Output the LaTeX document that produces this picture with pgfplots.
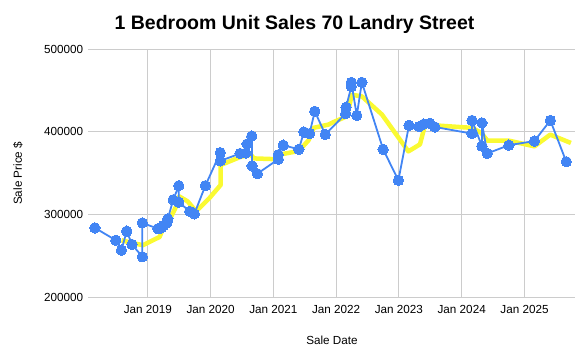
\documentclass[border=0pt]{standalone}
\usepackage{fontspec}
\setmainfont{Liberation Sans}
\usepackage{pgfplots}
\pgfplotsset{compat=1.18}
\definecolor{gblue}{RGB}{66,133,244}
\definecolor{gyellow}{RGB}{250,250,50}
\definecolor{ggrid}{RGB}{204,204,204}
\begin{document}
\begin{tikzpicture}
\useasboundingbox (0,0) rectangle (588bp,362bp);
\begin{axis}[
  at={(88.3bp,64.7bp)}, anchor=south west,
  width=487bp, height=248bp, scale only axis,
  xmin=2018.05, xmax=2025.81,
  ymin=200000, ymax=500000,
  axis line style={draw=none},
  grid=major,
  major grid style={ggrid, line width=1bp},
  major tick length=0pt,
  tick style={draw=none},
  xtick={2019,2020,2021,2022,2023,2024,2025},
  xticklabels={Jan 2019,Jan 2020,Jan 2021,Jan 2022,Jan 2023,Jan 2024,Jan 2025},
  ytick={200000,300000,400000,500000},
  scaled y ticks=false,
  /pgf/number format/fixed,
  /pgf/number format/1000 sep={},
  /pgf/number format/assume math mode=true,
  ticklabel style={font=\fontsize{11.7bp}{13bp}\selectfont, text=black},
  xticklabel style={anchor=base, yshift=-16.2bp},
  yticklabel style={anchor=east, xshift=-1.6bp},
]
\addplot[gyellow, line width=4.5bp, line join=round] coordinates {
(2018.58,269000) (2018.737,266000) (2018.92,263000) (2019.186,273000)
(2019.24,283000) (2019.34,293000) (2019.45,310000) (2019.50,322000)
(2019.634,316000) (2019.767,304000) (2019.98,320000) (2020.16,336000)
(2020.16,360000) (2020.48,370000) (2020.64,372500) (2020.69,368000)
(2021.06,367000) (2021.09,372500) (2021.405,377000) (2021.56,390000)
(2021.64,405000) (2021.88,409000) (2021.93,411000) (2022.17,419000)
(2022.25,445000) (2022.41,443000) (2022.73,421000) (2023.15,376500)
(2023.335,385000) (2023.41,407000) (2023.57,408000) (2024.16,405000)
(2024.31,399000) (2024.41,389500) (2024.75,389500) (2025.16,382600)
(2025.41,396800) (2025.74,386700)
};
\addplot[gblue, line width=1.8bp, mark=*, mark size=5.2bp, mark options={fill=gblue, draw=gblue, line width=0bp}] coordinates {
(2018.155,284000) (2018.488,269000) (2018.578,257000) (2018.662,280000)
(2018.746,264000) (2018.911,249000) (2018.911,290000) (2019.159,283000)
(2019.212,284000) (2019.249,287000) (2019.301,290000) (2019.317,295000)
(2019.403,318000) (2019.492,335000) (2019.492,315000) (2019.666,304000)
(2019.740,301000) (2019.915,335000) (2020.153,375000) (2020.153,365000)
(2020.47,374000) (2020.56,374500) (2020.58,385500) (2020.655,395000)
(2020.66,359000) (2020.744,349500) (2021.077,367000) (2021.077,372500)
(2021.156,384000) (2021.405,379000) (2021.485,400000) (2021.575,398000)
(2021.659,425000) (2021.826,397000) (2022.150,422000) (2022.158,430000)
(2022.241,455000) (2022.241,460000) (2022.328,420000) (2022.409,460000)
(2022.748,379000) (2022.991,341500) (2023.160,408000) (2023.321,406500)
(2023.395,409500) (2023.493,410500) (2023.573,406000) (2024.164,398000)
(2024.164,414000) (2024.322,383000) (2024.322,411000) (2024.407,374000)
(2024.751,384000) (2025.158,389000) (2025.412,414000) (2025.666,364000)
};
\end{axis}
\node[anchor=base, font=\bfseries\fontsize{19.5bp}{22bp}\selectfont] at (294.5bp,332bp) {1 Bedroom Unit Sales 70 Landry Street};
\node[anchor=base, font=\fontsize{11.7bp}{13bp}\selectfont] at (332bp,18bp) {Sale Date};
\node[rotate=90, anchor=center, font=\fontsize{11.7bp}{13bp}\selectfont] at (18bp,188.7bp) {Sale Price \$};
\end{tikzpicture}
\end{document}
